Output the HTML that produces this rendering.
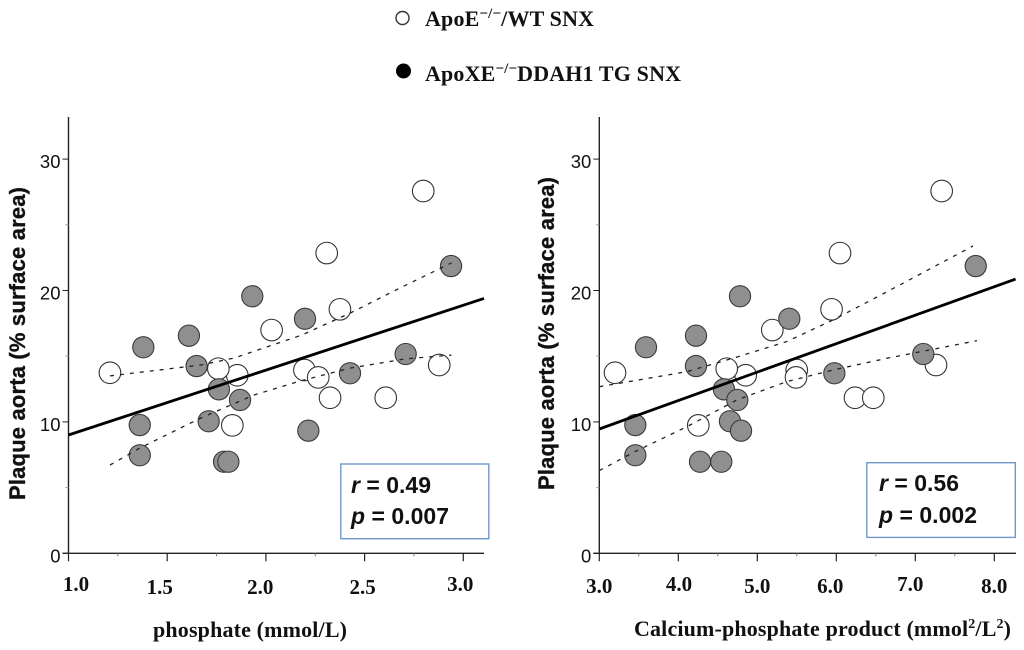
<!DOCTYPE html>
<html lang="en">
<head>
<meta charset="utf-8">
<title>Plaque aorta correlations</title>
<style>
html,body{margin:0;padding:0;background:#fff;}
#figure{display:block;width:1024px;height:650px;filter:blur(0.3px);}
.tick-y{font:18.5px "Liberation Sans",sans-serif;fill:#111;text-anchor:end;}
.tick-x{font:bold 21px "Liberation Serif",serif;fill:#111;text-anchor:middle;}
.ytitle{font:bold 22px "Liberation Sans",sans-serif;fill:#111;stroke:#111;stroke-width:0.35;}
.xtitle{font:bold 22px "Liberation Serif",serif;fill:#111;}
.legend{font:bold 22px "Liberation Serif",serif;fill:#111;}
.stat{font:bold 23px "Liberation Sans",sans-serif;fill:#111;}
</style>
</head>
<body>
<svg id="figure" xmlns="http://www.w3.org/2000/svg" width="1024" height="650" viewBox="0 0 1024 650">
  <rect x="0" y="0" width="1024" height="650" fill="#fff"/>
  <g>
    <circle cx="402.5" cy="18" r="6.5" fill="#fff" stroke="#333" stroke-width="1.4"/>
    <text class="legend" x="425" y="26" textLength="169" lengthAdjust="spacing">ApoE<tspan font-size="15" dy="-8">−/−</tspan><tspan dy="8">/WT SNX</tspan></text>
    <circle cx="403.5" cy="71" r="7.5" fill="#000"/>
    <text class="legend" x="425" y="81" textLength="256" lengthAdjust="spacing">ApoXE<tspan font-size="15" dy="-8">−/−</tspan><tspan dy="8">DDAH1 TG SNX</tspan></text>
  </g>
  <g id="left-chart"></g>
  <g id="right-chart"></g>

  <text class="ytitle" transform="translate(25 500) rotate(-90)" textLength="313" lengthAdjust="spacing">Plaque aorta (% surface area)</text>
  <text class="ytitle" transform="translate(554 490) rotate(-90)" textLength="313" lengthAdjust="spacing">Plaque aorta (% surface area)</text>
  <text class="xtitle" x="153" y="637" textLength="194" lengthAdjust="spacing">phosphate (mmol/L)</text>
  <text class="xtitle" x="634" y="636" textLength="377" lengthAdjust="spacing">Calcium-phosphate product (mmol<tspan font-size="14" dy="-8">2</tspan><tspan dy="8">/L</tspan><tspan font-size="14" dy="-8">2</tspan><tspan dy="8">)</tspan></text>

  <g>
    <rect x="340.8" y="464" width="148" height="74.7" fill="#fff" stroke="#6f97cb" stroke-width="1.4"/>
    <text class="stat" x="351" y="493" textLength="80" lengthAdjust="spacing"><tspan font-style="italic">r</tspan> = 0.49</text>
    <text class="stat" x="351" y="524" textLength="98" lengthAdjust="spacing"><tspan font-style="italic">p</tspan> = 0.007</text>
  </g>
  <g>
    <rect x="866.8" y="462.7" width="148.5" height="74.7" fill="#fff" stroke="#6f97cb" stroke-width="1.4"/>
    <text class="stat" x="879" y="491" textLength="80" lengthAdjust="spacing"><tspan font-style="italic">r</tspan> = 0.56</text>
    <text class="stat" x="879" y="523" textLength="98" lengthAdjust="spacing"><tspan font-style="italic">p</tspan> = 0.002</text>
  </g>
</svg>
<script>
// Shared y axis values
const yTicks = [0, 10, 20, 30];
const yMinorTicks = [5, 15, 25];

// Left chart: phosphate
const leftXTicks = [1.0, 1.5, 2.0, 2.5, 3.0];
const leftXMinorTicks = [1.25, 1.75, 2.25, 2.75];
const leftXLabels = ['1.0', '1.5', '2.0', '2.5', '3.0'];
const leftWhiteX = [1.21, 1.855, 1.759, 2.029, 2.375, 2.308, 2.797, 2.195, 2.265, 2.878, 2.325, 2.607, 1.83];
const leftWhiteY = [13.74, 13.55, 14.05, 16.99, 18.57, 22.85, 27.57, 13.95, 13.39, 14.33, 11.84, 11.84, 9.74];
const leftGrayX = [1.379, 1.61, 1.649, 1.931, 2.198, 2.938, 2.708, 2.426, 1.762, 1.869, 1.361, 1.361, 1.71, 2.215, 1.788, 1.81];
const leftGrayY = [15.68, 16.56, 14.25, 19.56, 17.85, 21.86, 15.17, 13.7, 12.48, 11.67, 9.76, 7.46, 10.05, 9.33, 6.97, 6.97];
const leftFitX = [1.0, 3.105];
const leftFitY = [9.0, 19.4];
const leftUpperX = [1.21, 1.67, 1.84, 2.18, 2.43, 2.68, 2.94];
const leftUpperY = [13.5, 14.33, 14.86, 16.6, 18.3, 20.2, 22.1];
const leftLowerX = [1.21, 1.36, 1.67, 1.94, 2.17, 2.43, 2.71, 2.94];
const leftLowerY = [6.72, 8.0, 10.3, 12.05, 13.1, 14.1, 14.8, 15.08];

// Right chart: calcium-phosphate product
const rightXTicks = [3.0, 4.0, 5.0, 6.0, 7.0, 8.0];
const rightXMinorTicks = [3.5, 4.5, 5.5, 6.5, 7.5];
const rightXLabels = ['3.0', '4.0', '5.0', '6.0', '7.0', '8.0'];
const rightWhiteX = [3.199, 4.853, 4.613, 5.19, 5.94, 6.047, 7.334, 5.499, 5.49, 7.262, 6.237, 6.468, 4.253];
const rightWhiteY = [13.74, 13.55, 14.05, 16.99, 18.57, 22.85, 27.57, 13.95, 13.39, 14.33, 11.84, 11.84, 9.74];
const rightGrayX = [3.591, 4.224, 4.224, 4.781, 5.405, 7.765, 7.101, 5.975, 4.578, 4.747, 3.456, 3.456, 4.654, 4.794, 4.275, 4.544];
const rightGrayY = [15.68, 16.56, 14.25, 19.56, 17.85, 21.86, 15.17, 13.7, 12.48, 11.67, 9.76, 7.46, 10.05, 9.33, 6.97, 6.97];
const rightFitX = [3.0, 8.27];
const rightFitY = [9.46, 20.87];
const rightUpperX = [3.0, 4.106, 4.69, 5.37, 5.96, 6.64, 7.73];
const rightUpperY = [12.68, 13.82, 14.84, 16.1, 17.76, 19.9, 23.39];
const rightLowerX = [3.0, 3.45, 4.106, 4.74, 5.37, 5.96, 6.64, 7.78];
const rightLowerY = [6.29, 7.73, 9.63, 11.67, 13.06, 13.95, 14.84, 16.18];

// Layout (hand-placed label offsets in the original figure)
const leftLabelNudgeX = [7.5, -7.4, -5.6, -2, -3];
const leftLabelNudgeY = [0, 3, 3, 3, 0];
const rightLabelNudgeX = [0, 0.7, 0, -6, -5, 0];
const rightLabelNudgeY = [2, 0, 2, 2, 0, 2];

const NS = 'http://www.w3.org/2000/svg';

function make(parent, tag, props) {
  const el = document.createElementNS(NS, tag);
  for (const k in props) el.setAttribute(k, props[k]);
  parent.appendChild(el);
  return el;
}

function drawChart(root, cfg) {
  const sx = v => cfg.x0 + (v - cfg.xMin) * cfg.xPerUnit;
  const sy = v => 553.3 - v * 13.14;

  const yAxis = make(root, 'line', { x1: cfg.x0, x2: cfg.x0, y1: 117, y2: sy(0), stroke: '#222', 'stroke-width': 1.4 });
  
  
  const xAxis = make(root, 'line', { x1: cfg.x0 - 6, x2: cfg.xEnd, y1: sy(0), y2: sy(0), stroke: '#222', 'stroke-width': 1.4 });
  
  

  yTicks.forEach(v => {
    const t = make(root, 'line', { x1: cfg.x0 - 6, x2: cfg.x0, y1: sy(v), y2: sy(v), stroke: '#222', 'stroke-width': 1 });
    
    
    const l = make(root, 'text', { class: 'tick-y', x: cfg.x0 - 8, y: sy(v) + 9 });
    l.textContent = String(v);
    
    
  });
  yMinorTicks.forEach(v => {
    const t = make(root, 'line', { x1: cfg.x0 - 3, x2: cfg.x0, y1: sy(v), y2: sy(v), stroke: '#999', 'stroke-width': 1 });
    
    
  });
  cfg.xTicks.forEach((v, i) => {
    const t = make(root, 'line', { x1: sx(v), x2: sx(v), y1: sy(0), y2: sy(0) + 8, stroke: '#222', 'stroke-width': 1.2 });
    
    
    const l = make(root, 'text', { class: 'tick-x', x: sx(v) + cfg.nudgeX[i], y: 591 + cfg.nudgeY[i] });
    l.textContent = cfg.xLabels[i];
    
    
  });
  cfg.xMinor.forEach(v => {
    const t = make(root, 'line', { x1: sx(v), x2: sx(v), y1: sy(0), y2: sy(0) + 3, stroke: '#777', 'stroke-width': 1 });
    
    
  });

  cfg.whiteX.forEach((v, i) => {
    const c = make(root, 'circle', { cx: sx(v), cy: sy(cfg.whiteY[i]), r: 10.8, fill: '#fff', stroke: '#333', 'stroke-width': 1.1 });
    
    
  });
  cfg.grayX.forEach((v, i) => {
    const c = make(root, 'circle', { cx: sx(v), cy: sy(cfg.grayY[i]), r: 10.6, fill: '#8f8f8f', stroke: '#3a3a3a', 'stroke-width': 1.1 });
    
    
  });

  const toPts = (xs, ys) => xs.map((v, i) => sx(v).toFixed(1) + ',' + sy(ys[i]).toFixed(1)).join(' ');
  const upper = make(root, 'polyline', { points: toPts(cfg.upperX, cfg.upperY), fill: 'none', stroke: '#222', 'stroke-width': 1.3, 'stroke-dasharray': '4 6' });
  
  
  const lower = make(root, 'polyline', { points: toPts(cfg.lowerX, cfg.lowerY), fill: 'none', stroke: '#222', 'stroke-width': 1.3, 'stroke-dasharray': '4 6' });
  
  
  const fit = make(root, 'polyline', { points: toPts(cfg.fitX, cfg.fitY), fill: 'none', stroke: '#000', 'stroke-width': 2.8 });
  
  
}

drawChart(document.getElementById('left-chart'), {
  x0: 68.5, xMin: 1.0, xPerUnit: 197.4, xEnd: 484,
  xTicks: leftXTicks, xMinor: leftXMinorTicks, xLabels: leftXLabels,
  nudgeX: leftLabelNudgeX, nudgeY: leftLabelNudgeY,
  whiteX: leftWhiteX, whiteY: leftWhiteY, grayX: leftGrayX, grayY: leftGrayY,
  fitX: leftFitX, fitY: leftFitY, upperX: leftUpperX, upperY: leftUpperY, lowerX: leftLowerX, lowerY: leftLowerY
});
drawChart(document.getElementById('right-chart'), {
  x0: 599.3, xMin: 3.0, xPerUnit: 79, xEnd: 1016,
  xTicks: rightXTicks, xMinor: rightXMinorTicks, xLabels: rightXLabels,
  nudgeX: rightLabelNudgeX, nudgeY: rightLabelNudgeY,
  whiteX: rightWhiteX, whiteY: rightWhiteY, grayX: rightGrayX, grayY: rightGrayY,
  fitX: rightFitX, fitY: rightFitY, upperX: rightUpperX, upperY: rightUpperY, lowerX: rightLowerX, lowerY: rightLowerY
});
</script>
</body>
</html>
